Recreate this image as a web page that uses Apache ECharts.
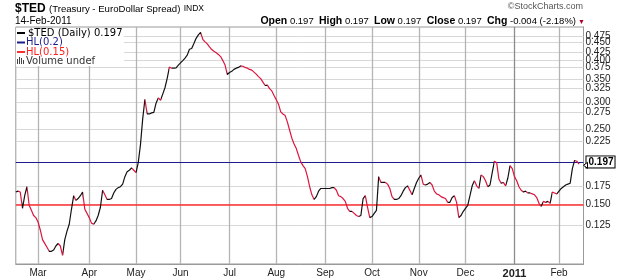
<!DOCTYPE html>
<html>
<head>
<meta charset="utf-8">
<script src="https://cdn.jsdelivr.net/npm/echarts@6/dist/echarts.min.js"></script>
<style>
  html, body { margin: 0; padding: 0; background: #fff; }
  #chart { width: 625px; height: 279px; }
</style>
</head>
<body>
<div id="chart"></div>
<script>
// trading days: weekdays minus these market holidays
const holidays = ['2010-02-15', '2010-04-02', '2010-05-31', '2010-07-05',
                  '2010-09-06', '2010-11-25', '2010-12-24', '2011-01-17'];
const monthNames = ['Jan', 'Feb', 'Mar', 'Apr', 'May', 'Jun', 'Jul', 'Aug', 'Sep', 'Oct', 'Nov', 'Dec'];

// $TED daily close, 12-Feb-2010 .. 14-Feb-2011
const tedValues = [
  0.163, 0.164, 0.163, 0.146, 0.159, 0.169, 0.149, 0.144, 0.139, 0.137,
  0.133, 0.126, 0.118, 0.115, 0.112, 0.109, 0.109, 0.110, 0.113, 0.115,
  0.113, 0.106, 0.118, 0.125, 0.131, 0.145, 0.159, 0.154, 0.156, 0.159,
  0.163, 0.145, 0.141, 0.137, 0.132, 0.131, 0.134, 0.139, 0.147, 0.165,
  0.160, 0.155, 0.155, 0.156, 0.162, 0.166, 0.168, 0.169, 0.172, 0.181,
  0.187, 0.189, 0.192, 0.189, 0.186, 0.199, 0.225, 0.268, 0.306, 0.277,
  0.277, 0.279, 0.280, 0.298, 0.309, 0.304, 0.317, 0.331, 0.353, 0.381,
  0.378, 0.378, 0.379, 0.386, 0.392, 0.398, 0.405, 0.413, 0.430, 0.432,
  0.447, 0.463, 0.474, 0.482, 0.460, 0.452, 0.446, 0.437, 0.429, 0.424,
  0.420, 0.415, 0.409, 0.398, 0.386, 0.362, 0.367, 0.370, 0.375, 0.378,
  0.380, 0.384, 0.383, 0.380, 0.378, 0.375, 0.373, 0.368, 0.363, 0.357,
  0.352, 0.344, 0.336, 0.337, 0.329, 0.324, 0.314, 0.305, 0.296, 0.281,
  0.277, 0.274, 0.262, 0.248, 0.235, 0.226, 0.219, 0.209, 0.200, 0.195,
  0.191, 0.181, 0.169, 0.160, 0.155, 0.158, 0.164, 0.167, 0.167, 0.167,
  0.167, 0.167, 0.168, 0.168, 0.165, 0.159, 0.158, 0.156, 0.153, 0.146,
  0.143, 0.143, 0.141, 0.139, 0.138, 0.139, 0.156, 0.159, 0.147, 0.137,
  0.138, 0.141, 0.144, 0.181, 0.174, 0.174, 0.174, 0.172, 0.167, 0.158,
  0.155, 0.155, 0.156, 0.159, 0.164, 0.168, 0.170, 0.165, 0.160, 0.167,
  0.174, 0.179, 0.183, 0.172, 0.171, 0.172, 0.174, 0.171, 0.164, 0.161,
  0.160, 0.158, 0.157, 0.156, 0.152, 0.152, 0.157, 0.159, 0.152, 0.137,
  0.139, 0.143, 0.146, 0.149, 0.159, 0.170, 0.176, 0.170, 0.167, 0.183,
  0.181, 0.176, 0.169, 0.171, 0.186, 0.201, 0.199, 0.178, 0.173, 0.174,
  0.170, 0.179, 0.195, 0.191, 0.181, 0.176, 0.169, 0.165, 0.163, 0.164,
  0.162, 0.162, 0.161, 0.160, 0.157, 0.151, 0.148, 0.153, 0.152, 0.153,
  0.151, 0.163, 0.162, 0.161, 0.164, 0.167, 0.169, 0.171, 0.172, 0.173,
  0.191, 0.202, 0.201, 0.197
];

const yTicks = [0.125, 0.150, 0.175, 0.225, 0.250, 0.275, 0.300, 0.325,
                0.350, 0.375, 0.400, 0.425, 0.450, 0.475];
const hlBlue = 0.2;
const hlRed = 0.15;
const lastClose = 0.197;

const RED = '#dc143c';
const BLACK = '#111';

// category list of trading days (two empty days at the right edge)
const dates = [];
for (let t = Date.UTC(2010, 1, 12); t <= Date.UTC(2011, 1, 16); t += 86400000) {
  const d = new Date(t);
  const wd = d.getUTCDay();
  if (wd === 0 || wd === 6) continue;
  const s = d.toISOString().slice(0, 10);
  if (holidays.includes(s)) continue;
  dates.push(s);
}
const tedData = dates.map((d, i) => i < tedValues.length ? tedValues[i] : null);

function monthStart(i) {
  return i > 0 && dates[i].slice(5, 7) !== dates[i - 1].slice(5, 7);
}
const monthDays = dates.filter((d, i) => monthStart(i));
const yearDays = monthDays.filter(d => d.slice(5, 7) === '01');
const otherMonthDays = monthDays.filter(d => d.slice(5, 7) !== '01');

// black when rising, red when falling
const pieces = [];
let runStart = 0;
let runDown = tedValues[1] < tedValues[0];
for (let i = 1; i < tedValues.length - 1; i++) {
  const down = tedValues[i + 1] < tedValues[i];
  if (down !== runDown) {
    pieces.push({ gte: runStart, lte: i, color: runDown ? RED : BLACK });
    runStart = i;
    runDown = down;
  }
}
pieces.push({ gte: runStart, lte: tedValues.length - 1, color: runDown ? RED : BLACK });

const chart = echarts.init(document.getElementById('chart'), null, { renderer: 'canvas' });

const font = 'Liberation Sans, Arial, sans-serif';
const legFont = 'DejaVu Sans, Verdana, sans-serif';

function gridLines(name, items, color) {
  return {
    name: name,
    type: 'line',
    data: [],
    z: 1,
    markLine: {
      silent: true,
      symbol: 'none',
      label: { show: false },
      lineStyle: { color: color, width: 1.3, type: 'solid' },
      data: items.map(d => ({ xAxis: d }))
    }
  };
}

const option = {
  animation: false,
  textStyle: { fontFamily: font },
  grid: {
    left: 15.8, right: 41.5, top: 27, bottom: 15,
    show: true, borderColor: '#999', borderWidth: 1
  },
  visualMap: {
    show: false,
    type: 'piecewise',
    dimension: 0,
    seriesIndex: 0,
    pieces: pieces,
    outOfRange: { color: BLACK }
  },
  xAxis: {
    type: 'category',
    data: dates,
    boundaryGap: false,
    axisLine: { lineStyle: { color: '#999' } },
    axisTick: { show: false },
    axisLabel: {
      interval: (i) => monthStart(i),
      margin: 4,
      fontSize: 10,
      color: '#222',
      fontFamily: font,
      formatter: (v) => {
        const m = +v.slice(5, 7);
        return m === 1 ? '{y|' + v.slice(0, 4) + '}' : monthNames[m - 1];
      },
      rich: { y: { fontWeight: 'bold', fontSize: 11, fontFamily: font, color: '#222' } }
    },
    splitLine: { show: false }
  },
  yAxis: {
    type: 'log',
    logBase: 10,
    min: 0.1,
    max: 0.5,
    position: 'right',
    axisLine: { show: true, lineStyle: { color: '#999' } },
    axisTick: { show: false },
    axisLabel: { show: false },
    splitLine: { show: false }
  },
  series: [
    {
      name: '$TED',
      type: 'line',
      data: tedData,
      showSymbol: false,
      z: 5,
      lineStyle: { width: 1.2 },
      markLine: {
        silent: true,
        symbol: 'none',
        lineStyle: { color: 'rgba(0,0,0,0)', width: 0 },
        label: {
          show: true,
          position: 'end',
          distance: 3,
          formatter: '{b}',
          fontSize: 10,
          fontWeight: 'bold',
          fontFamily: font,
          color: '#000',
          backgroundColor: '#fff',
          borderColor: '#000',
          borderWidth: 1,
          padding: [1, 1, 0, 2]
        },
        data: [{ yAxis: lastClose, name: lastClose.toFixed(3) }]
      }
    },
    {
      name: 'ygrid',
      type: 'line',
      data: [],
      z: 1,
      markLine: {
        silent: true,
        symbol: 'none',
        lineStyle: { color: '#d8d8d8', width: 1, type: 'solid' },
        label: {
          position: 'end',
          distance: 2,
          formatter: '{b}',
          fontSize: 10,
          fontFamily: font,
          color: '#222'
        },
        data: yTicks.map(v => ({ yAxis: v, name: v.toFixed(3) }))
      }
    },
    gridLines('months', otherMonthDays, '#b4b4b4'),
    gridLines('years', yearDays, '#8c8c8c'),
    {
      name: 'HL',
      type: 'line',
      data: [],
      z: 3,
      markLine: {
        silent: true,
        symbol: 'none',
        label: { show: false },
        data: [
          { yAxis: hlBlue, lineStyle: { color: '#1c1c8c', width: 1, type: 'solid' } },
          { yAxis: hlRed, lineStyle: { color: '#ff3030', width: 1.6, type: 'solid' } }
        ]
      }
    }
  ],
  graphic: [
    {
      type: 'text', left: 15, top: 3,
      style: {
        text: '{a|$TED} {b|(Treasury - EuroDollar Spread)} {c|INDX}',
        rich: {
          a: { fontSize: 12, fontWeight: 'bold', fontFamily: font, fill: '#000' },
          b: { fontSize: 9.6, fontFamily: font, fill: '#000' },
          c: { fontSize: 8.5, fontFamily: font, fill: '#000' }
        }
      }
    },
    {
      type: 'text', left: 15, top: 16,
      style: { text: '14-Feb-2011', fontSize: 10, fontFamily: font, fill: '#000' }
    },
    {
      type: 'text',
      style: {
        x: 583, y: 7, align: 'right', verticalAlign: 'middle',
        text: '\u00a9StockCharts.com', fontSize: 9, fontFamily: font, fill: '#555'
      }
    },
    {
      type: 'text',
      style: {
        x: 576, y: 21, align: 'right', verticalAlign: 'middle',
        text: '{k|Open} 0.197  {k|High} 0.197  {k|Low} 0.197  {k|Close} 0.197  {k|Chg} -0.004 (-2.18%)',
        fontSize: 9.5, fontFamily: font, fill: '#000',
        rich: { k: { fontSize: 10.5, fontWeight: 'bold', fontFamily: font, fill: '#000' } }
      }
    },
    {
      type: 'text',
      style: { x: 578, y: 22, verticalAlign: 'middle', text: '\u25bc', fontSize: 7, fill: '#b0002a' }
    },
    // arrow of the last-close box
    {
      type: 'polygon', z: 60,
      shape: { points: [[583.5, 165.3], [587.5, 162.3], [587.5, 168.3]] },
      style: { fill: '#fff', stroke: '#000', lineWidth: 1 }
    },
    // legend block
    { type: 'rect', z: 50, shape: { x: 16, y: 28, width: 108, height: 38 }, style: { fill: '#fff' } },
    { type: 'line', z: 51, shape: { x1: 17, y1: 33, x2: 25, y2: 33 }, style: { stroke: '#000', lineWidth: 2 } },
    { type: 'line', z: 51, shape: { x1: 17, y1: 42.5, x2: 25, y2: 42.5 }, style: { stroke: '#1c1c8c', lineWidth: 2 } },
    { type: 'line', z: 51, shape: { x1: 17, y1: 52, x2: 25, y2: 52 }, style: { stroke: '#ff3030', lineWidth: 2 } },
    { type: 'rect', z: 51, shape: { x: 17, y: 59, width: 1, height: 5 }, style: { fill: '#444' } },
    { type: 'rect', z: 51, shape: { x: 19, y: 57, width: 1, height: 7 }, style: { fill: '#444' } },
    { type: 'rect', z: 51, shape: { x: 21, y: 58, width: 1, height: 6 }, style: { fill: '#444' } },
    { type: 'rect', z: 51, shape: { x: 23, y: 60, width: 1, height: 4 }, style: { fill: '#444' } },
    { type: 'text', z: 51, style: { x: 28, y: 33, verticalAlign: 'middle', text: '$TED (Daily) 0.197', fontSize: 10, fontFamily: legFont, fill: '#000' } },
    { type: 'text', z: 51, style: { x: 26, y: 42.5, verticalAlign: 'middle', text: 'HL(0.2)', fontSize: 10, fontFamily: legFont, fill: '#1c1c8c' } },
    { type: 'text', z: 51, style: { x: 26, y: 52, verticalAlign: 'middle', text: 'HL(0.15)', fontSize: 10, fontFamily: legFont, fill: '#ff2020' } },
    { type: 'text', z: 51, style: { x: 26, y: 61.5, verticalAlign: 'middle', text: 'Volume undef', fontSize: 10, fontFamily: legFont, fill: '#333' } }
  ]
};

chart.setOption(option);
</script>
</body>
</html>
